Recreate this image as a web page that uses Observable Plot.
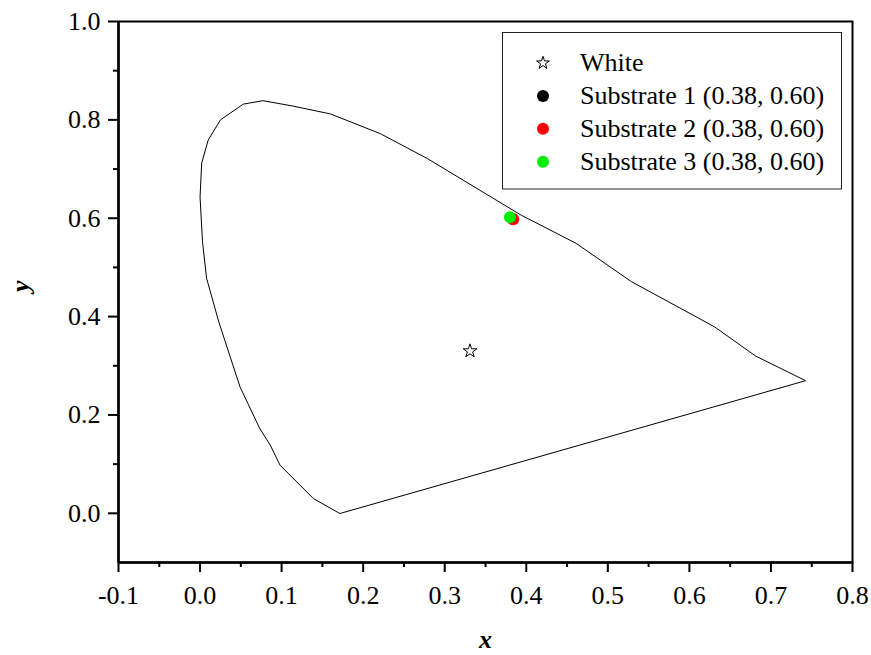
<!DOCTYPE html>
<html>
<head>
<meta charset="utf-8">
<script src="https://cdn.jsdelivr.net/npm/d3@7"></script>
<script src="https://cdn.jsdelivr.net/npm/@observablehq/plot@0.6"></script>
<style>
  html, body { margin: 0; padding: 0; background: #fff; }
  #chart svg { display: block; }
</style>
</head>
<body>
<div id="chart"></div>
<script>
// Spectral locus (CIE 1931 chromaticity boundary)
const locusX = [0.171, 0.139, 0.098, 0.086, 0.073, 0.049, 0.023, 0.008, 0.003, 0.000, 0.002, 0.010, 0.025, 0.053, 0.077, 0.114, 0.160, 0.221, 0.279, 0.357, 0.394, 0.461, 0.529, 0.631, 0.681, 0.742];
const locusY = [0.000, 0.030, 0.098, 0.139, 0.173, 0.257, 0.389, 0.478, 0.552, 0.643, 0.712, 0.759, 0.800, 0.832, 0.839, 0.828, 0.812, 0.772, 0.721, 0.643, 0.606, 0.549, 0.471, 0.379, 0.320, 0.270];

// White point
const whiteLabel = "White";
const whiteX = [0.331];
const whiteY = [0.330];

// Substrates
const seriesNames = ["Substrate 1 (0.38, 0.60)", "Substrate 2 (0.38, 0.60)", "Substrate 3 (0.38, 0.60)"];
const seriesX = [0.383, 0.384, 0.380];
const seriesY = [0.599, 0.598, 0.602];
const seriesColors = ["#000000", "#ff0000", "#00ee00"];

// Ticks
const xTicks = [-0.1, 0.0, 0.1, 0.2, 0.3, 0.4, 0.5, 0.6, 0.7, 0.8];
const xMinorTicks = [-0.05, 0.05, 0.15, 0.25, 0.35, 0.45, 0.55, 0.65, 0.75];
const yTicks = [0.0, 0.2, 0.4, 0.6, 0.8, 1.0];
const yMinorTicks = [0.1, 0.3, 0.5, 0.7, 0.9];

const locus = locusX.map((x, i) => ({x, y: locusY[i]}));
const white = whiteX.map((x, i) => ({x, y: whiteY[i]}));
const subs = seriesNames.map((name, i) => ({name, x: seriesX[i], y: seriesY[i], color: seriesColors[i]}));

const font = "'Liberation Serif', 'Times New Roman', serif";
const fmt = d => d3.format(".1f")(d).replace("\u2212", "-");

const chart = Plot.plot({
  width: 871,
  height: 655,
  marginLeft: 118,
  marginRight: 19,
  marginTop: 21,
  marginBottom: 93,
  style: {fontFamily: font, fontSize: "26px", color: "#000", background: "#fff"},
  x: {domain: [-0.1, 0.8]},
  y: {domain: [-0.1, 1.0]},
  marks: [
    Plot.frame({stroke: "#000", strokeWidth: 2}),
    Plot.axisX(xTicks, {tickSize: 10, tickPadding: 13, strokeWidth: 2, tickFormat: fmt, fontSize: 26, label: null}),
    Plot.axisX(xMinorTicks, {tickSize: 5, strokeWidth: 2, tickFormat: () => "", label: null}),
    Plot.axisY(yTicks, {tickSize: 10, tickPadding: 8, strokeWidth: 2, tickFormat: fmt, fontSize: 26, label: null}),
    Plot.axisY(yMinorTicks, {tickSize: 5, strokeWidth: 2, tickFormat: () => "", label: null}),
    Plot.ruleX([-0.1], {stroke: "#000", strokeWidth: 2.5}),
    Plot.ruleY([-0.1], {stroke: "#000", strokeWidth: 2.5}),
    Plot.line(locus, {x: "x", y: "y", curve: "linear-closed", stroke: "#000", strokeWidth: 1}),
    Plot.dot(white, {x: "x", y: "y", symbol: "star", r: 4.3, fill: "#fff", stroke: "#000", strokeWidth: 1}),
    Plot.dot(subs, {x: "x", y: "y", r: 6, fill: "color", stroke: null}),
    Plot.text(["x"], {frameAnchor: "bottom", lineAnchor: "middle", dy: 77, fontSize: 26, fontWeight: "bold", fontStyle: "italic"}),
    Plot.text(["y"], {frameAnchor: "left", lineAnchor: "middle", rotate: -90, dx: -98, fontSize: 26, fontWeight: "bold", fontStyle: "italic"})
  ]
});

document.getElementById("chart").appendChild(chart);

// Legend box inside the plot area
const svg = d3.select(chart);
const legend = svg.append("g")
  .attr("font-family", font).attr("font-size", 26).attr("text-anchor", "start");
const box = {x: 502.5, y: 32.5, w: 339, h: 156.5};
legend.append("rect")
  .attr("x", box.x).attr("y", box.y).attr("width", box.w).attr("height", box.h)
  .attr("fill", "#fff").attr("stroke", "#222").attr("stroke-width", 1);
const entries = [{label: whiteLabel, kind: "star", color: "#fff"}]
  .concat(subs.map(s => ({label: s.name, kind: "dot", color: s.color})));
const rowY0 = 63, rowStep = 32.9, symX = 543, textX = 580;
entries.forEach((e, i) => {
  const cy = rowY0 + i * rowStep;
  if (e.kind === "star") {
    legend.append("path")
      .attr("d", d3.symbol(d3.symbolStar, Math.PI * 4.0 * 4.0)())
      .attr("transform", `translate(${symX},${cy})`)
      .attr("fill", "#fff").attr("stroke", "#000").attr("stroke-width", 1);
  } else {
    legend.append("circle").attr("cx", symX).attr("cy", cy).attr("r", 6).attr("fill", e.color);
  }
  legend.append("text").attr("x", textX).attr("y", cy).attr("dy", "0.32em")
    .attr("text-anchor", "start").attr("fill", "#000").text(e.label);
});
</script>
</body>
</html>
